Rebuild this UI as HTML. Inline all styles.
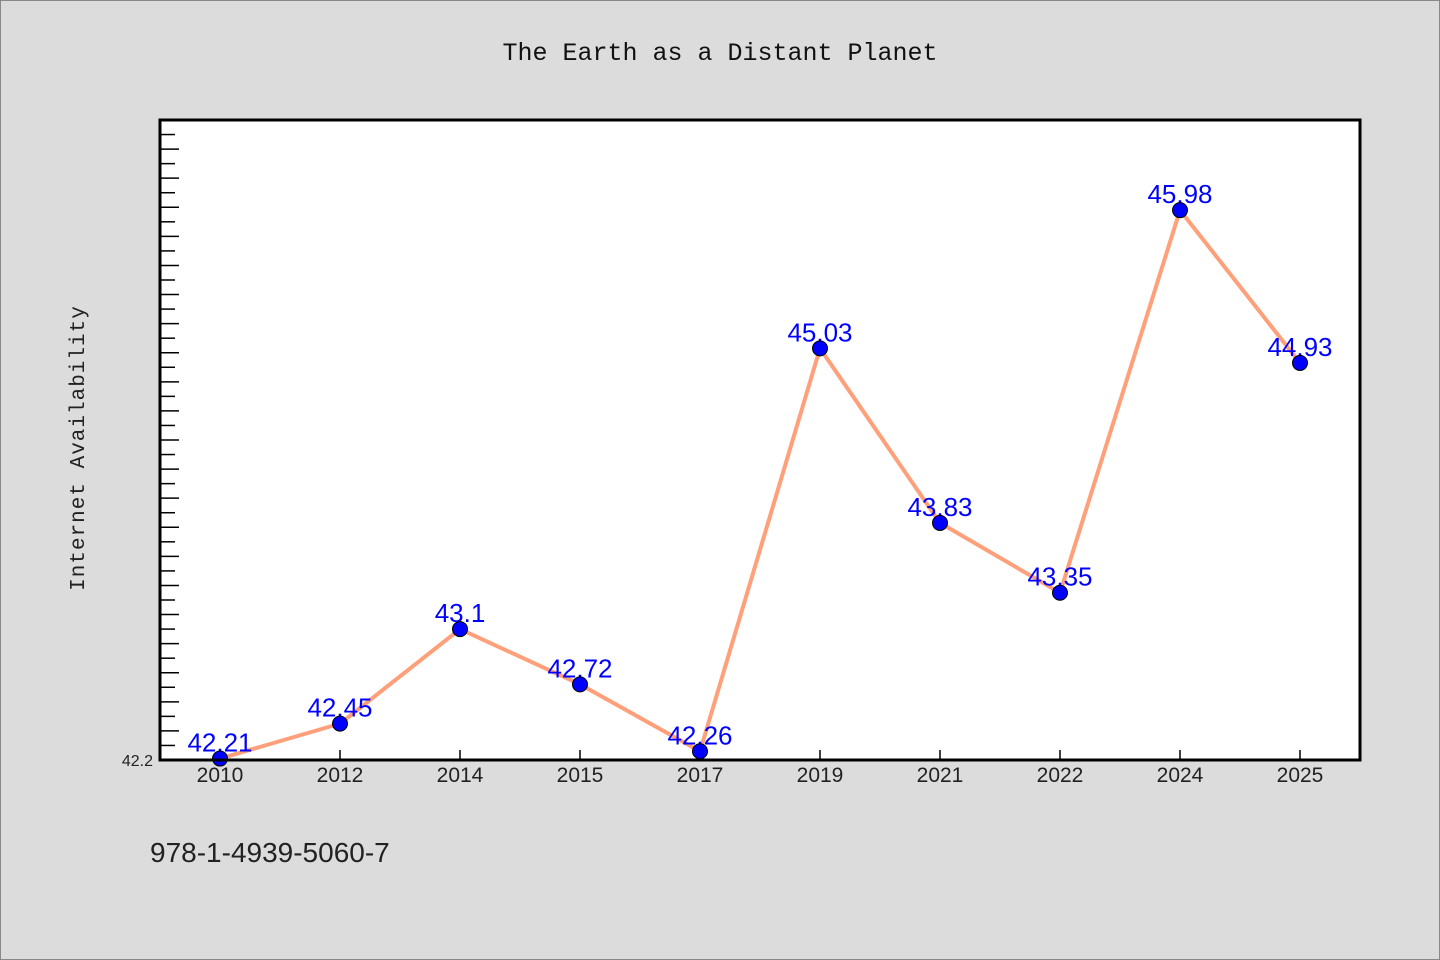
<!DOCTYPE html>
<html><head><meta charset="utf-8"><style>
html,body{margin:0;padding:0;background:#dcdcdc;}
svg{display:block;font-family:"Liberation Sans","Noto Sans CJK SC",sans-serif;}
</style></head><body>
<svg id="chart" width="1440" height="960" viewBox="0 0 1440 960">
<rect x="0.5" y="0.5" width="1439" height="959" fill="#dcdcdc" stroke="#888"/>
<text x="720" y="60" text-anchor="middle" font-size="25" fill="#111" font-family="Liberation Mono, monospace">The Earth as a Distant Planet</text>
<rect x="160" y="120" width="1200" height="640" fill="#fff"/>
<g id="yticks"></g><g id="xticks"></g><g id="line"></g><g id="labels"></g><g id="points"></g>
<rect x="160" y="120" width="1200" height="640" fill="none" stroke="#000" stroke-width="3"/>
<text transform="translate(84,448) rotate(-90)" text-anchor="middle" font-size="21" fill="#222" font-family="Liberation Mono, monospace" letter-spacing="1">Internet Availability</text>
<text x="153" y="766" text-anchor="end" font-size="16" fill="#222">42.2</text>
<text x="150" y="862" font-size="28" fill="#222">978-1-4939-5060-7</text>
</svg>
<script>
const categories=["2010","2012","2014","2015","2017","2019","2021","2022","2024","2025"];
const values=[42.21,42.45,43.1,42.72,42.26,45.03,43.83,43.35,45.98,44.93];
const yMin=42.2, yMax=46.6, yStep=0.1;
const NS="http://www.w3.org/2000/svg";
function X(i){return 160+120*(i+0.5);}
function Y(v){return 760-(v-yMin)/(yMax-yMin)*640;}
function mk(tag,attrs,parent){const e=document.createElementNS(NS,tag);for(const k in attrs)e.setAttribute(k,attrs[k]);document.getElementById(parent).appendChild(e);return e;}
const nT=Math.round((yMax-yMin)/yStep);
for(let k=1;k<nT;k++){const y=Y(yMin+k*yStep);
const t=mk("line",{x1:161,x2:k%2?175:179,y1:y,y2:y,stroke:"#000","stroke-width":1.5},"yticks");

}
categories.forEach((c,i)=>{
const t=mk("line",{x1:X(i),x2:X(i),y1:760,y2:750,stroke:"#000","stroke-width":1.5},"xticks");


const l=mk("text",{x:X(i),y:782,"text-anchor":"middle","font-size":21,fill:"#222"},"xticks");l.textContent=c;


const lab=mk("text",{x:X(i),y:Y(values[i])-7,"text-anchor":"middle","font-size":26,fill:"#0000ff"},"labels");lab.textContent=String(values[i]);


const p=mk("circle",{cx:X(i),cy:Y(values[i]),r:7.5,fill:"#0000ff",stroke:"#000","stroke-width":1},"points");


});
const pl=mk("polyline",{points:values.map((v,i)=>X(i)+","+Y(v)).join(" "),fill:"none",stroke:"#ffa07a","stroke-width":4,"stroke-linejoin":"round"},"line");


</script>
</body></html>
